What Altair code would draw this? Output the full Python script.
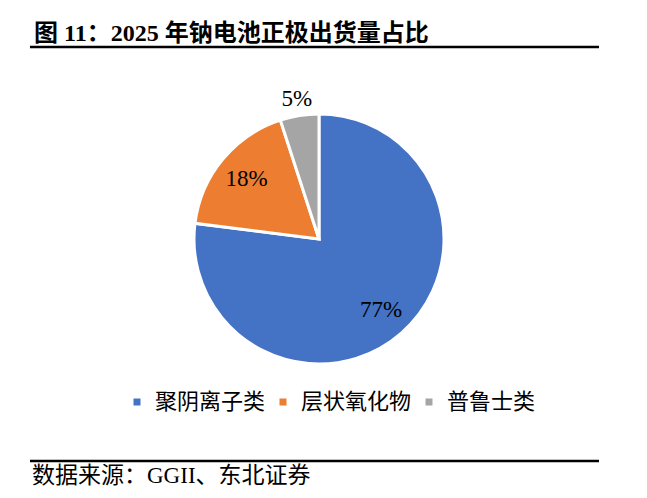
import altair as alt
import pandas as pd

categories = ["聚阴离子类", "层状氧化物", "普鲁士类"]
shares = [77, 18, 5]
colors = ["#4472C4", "#ED7D31", "#A5A5A5"]
title_text = "图 11：2025 年钠电池正极出货量占比"
source_text = "数据来源：GGII、东北证券"

df = pd.DataFrame({"category": categories, "value": shares, "order": list(range(len(categories)))})
one = pd.DataFrame({"k": [0]})

CX, CY, R = 311, 231, 125
serif = "Liberation Serif, Noto Sans CJK SC"
cjk = "Noto Sans CJK SC"

base = alt.Chart(df).encode(
    theta=alt.Theta("value:Q", stack=True),
    order=alt.Order("order:Q"),
    x=alt.value(CX),
    y=alt.value(CY),
)

arcs = base.mark_arc(radius=R, stroke="white", strokeWidth=3).encode(
    color=alt.Color(
        "category:N",
        scale=alt.Scale(domain=categories, range=colors),
        sort=categories,
        legend=alt.Legend(
            orient="none", legendX=118, legendY=383, direction="horizontal",
            title=None, symbolType="square", symbolSize=49, symbolStrokeWidth=0,
            labelFont=cjk, labelFontSize=22, labelColor="#000000",
            columnPadding=6, labelOffset=7, padding=0, labelLimit=300,
        ),
    )
)

lab = base.transform_calculate(label="datum.value + '%'")
inner = lab.mark_text(radius=94, font="Liberation Serif", fontSize=23, color="#000000",
                      align="center", baseline="middle").encode(
    text=alt.condition("datum.value >= 10", "label:N", alt.value(""))
)
outer = lab.mark_text(radius=142, font="Liberation Serif", fontSize=23, color="#000000",
                      align="center", baseline="middle").encode(
    text=alt.condition("datum.value < 10", "label:N", alt.value(""))
)

title = alt.Chart(one).mark_text(font=serif, fontSize=24, fontWeight="bold", color="#000000",
                                 align="left", baseline="alphabetic").encode(
    x=alt.value(26), y=alt.value(33), text=alt.value(title_text)
)
source = alt.Chart(one).mark_text(font=serif, fontSize=23, color="#000000",
                                  align="left", baseline="alphabetic").encode(
    x=alt.value(24), y=alt.value(475), text=alt.value(source_text)
)
rule_top = alt.Chart(one).mark_rule(color="#000000", strokeWidth=2.5).encode(
    x=alt.value(22), x2=alt.value(591), y=alt.value(39)
)
rule_bot = alt.Chart(one).mark_rule(color="#000000", strokeWidth=2.5).encode(
    x=alt.value(22), x2=alt.value(591), y=alt.value(453)
)

chart = alt.layer(arcs, inner, outer, title, source, rule_top, rule_bot).properties(
    width=620, height=482, autosize="none", padding=0, background="white"
).configure_view(stroke=None)

chart.save("out.html", embed_options={"renderer": "svg", "actions": False})
